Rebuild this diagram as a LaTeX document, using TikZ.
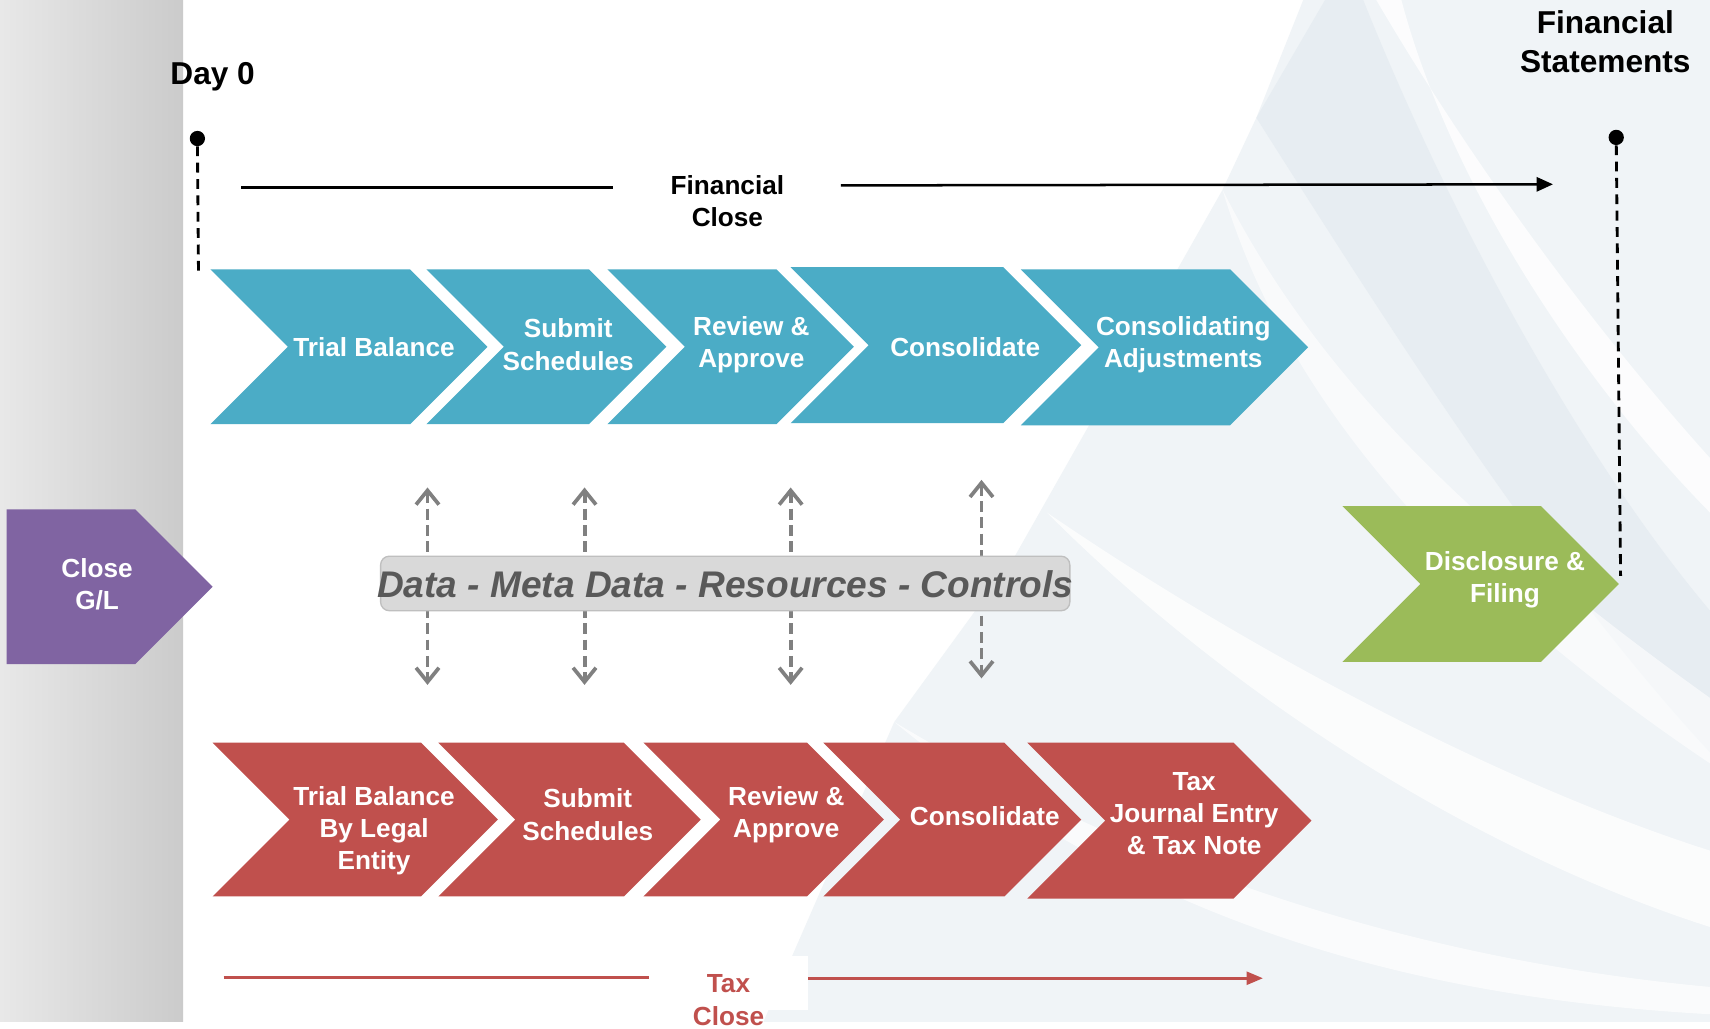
\documentclass[tikz,border=0pt]{standalone}
\usepackage{fontspec}
\setmainfont{Liberation Sans}
\usetikzlibrary{arrows.meta,calc}
\definecolor{cblue}{HTML}{4BACC6}
\definecolor{cred}{HTML}{C0504D}
\definecolor{cgreen}{HTML}{9BBB59}
\definecolor{cpurple}{HTML}{8064A2}
\definecolor{boxfill}{HTML}{D9D9D9}
\definecolor{boxline}{HTML}{BFBFBF}
\definecolor{datatext}{HTML}{595959}
\definecolor{arrowgrey}{HTML}{808080}
\definecolor{panelL}{HTML}{E8E8E8}
\definecolor{panelR}{HTML}{CBCBCB}
\definecolor{bgA}{HTML}{F0F4F7}
\definecolor{bgB}{HTML}{E7EDF2}
% colour, x left, x right, y top, y bottom, notch (1 or 0)
\newcommand\mychev[6]{%
  \pgfmathsetmacro\cd{(#5-#4)/2}%
  \pgfmathsetmacro\cm{(#5+#4)/2}%
  \fill[#1] (#2,#4) -- (#3,#4) -- (#3+\cd,\cm) -- (#3,#5) -- (#2,#5) -- (#2+#6*\cd,\cm) -- cycle;}
\begin{document}
\begin{tikzpicture}[x=1pt,y=-1pt,
  chevtext/.style={text=white, font=\bfseries\fontsize{24}{29.5}\selectfont, align=center, inner sep=0pt},
  toptext/.style={text=black, font=\bfseries\fontsize{24}{29}\selectfont, align=center, inner sep=0pt},
  bigtext/.style={text=black, font=\bfseries\fontsize{29}{36}\selectfont, align=center, inner sep=0pt},
  taxtext/.style={text=cred, font=\bfseries\fontsize{24}{30}\selectfont, align=center, inner sep=0pt},
  blackline/.style={draw=black, line width=2.3pt},
  redline/.style={draw=cred, line width=2.3pt},
  milestone/.style={circle, fill=black, inner sep=0pt, minimum size=14pt},
  msdash/.style={draw=black, line width=2.6pt, dash pattern=on 9pt off 6pt},
  dasharrow/.style={draw=arrowgrey, line width=3.6pt, dash pattern=on 10pt off 5pt,
     {Straight Barb[length=13pt,width=21pt,line width=3.4pt]}-{Straight Barb[length=13pt,width=21pt,line width=3.4pt]}},
  databox/.style={draw=boxline, fill=boxfill, line width=1.2pt, rounded corners=8pt, minimum width=632pt, minimum height=50pt, inner sep=0pt},
  datalabel/.style={text=datatext, font=\bfseries\itshape\fontsize{34}{40}\selectfont, inner sep=0pt}
]
\useasboundingbox (0,0) rectangle (1568,943);
\fill[white] (0,0) rectangle (1568,943);
% ---------- faint background ----------
\fill[bgA] (1195,0) -- (1568,0) -- (1568,937) -- (700,937) -- (820,662) -- (930,511) -- (1121,174) -- (1152,108) -- cycle;
\fill[bgB] (1152,108) -- (1215,0) -- (1250,0) .. controls (1330,200) and (1450,420) .. (1568,560) -- (1568,690) .. controls (1420,530) and (1280,310) .. (1152,108) -- cycle;
\fill[white,opacity=.8] (1262,0) .. controls (1350,150) and (1460,300) .. (1568,420) -- (1568,470) .. controls (1450,350) and (1330,170) .. (1285,0) -- cycle;
\fill[white,opacity=.75] (960,470) .. controls (1150,600) and (1380,720) .. (1568,780) -- (1568,850) .. controls (1380,790) and (1150,660) .. (960,470) -- cycle;
\fill[white,opacity=.7] (820,662) .. controls (1050,800) and (1300,880) .. (1568,905) -- (1568,930) .. controls (1300,915) and (1050,850) .. (820,662) -- cycle;
\fill[white,opacity=.6] (1121,174) .. controls (1200,330) and (1330,470) .. (1568,640) -- (1568,700) .. controls (1300,520) and (1170,340) .. (1121,174) -- cycle;
% ---------- grey side panel ----------
\shade[left color=panelL, right color=panelR] (0,0) rectangle (168,937);
% ---------- milestones ----------
\node[bigtext] (day0) at (195,70) {Day 0};
\node[bigtext] (fstat) at (1472,38) {Financial\\Statements};
\node[milestone] (dot0) at (181,127) {};
\node[milestone] (dotF) at (1482,126) {};
\coordinate (day0end) at (182,250);
\coordinate (fstatend) at (1486,528);
\draw[msdash] (dot0) -- (day0end);
\draw[msdash] (dotF) -- (fstatend);
% ---------- financial close line ----------
\node[toptext] (fclose) at (667,184.5) {Financial\\Close};
\coordinate (fcstart) at (221,172);
\coordinate (fcgapL) at (562,172);
\coordinate (fcgapR) at (771,170);
\coordinate (fcend) at (1424,169);
\draw[blackline] (fcstart) -- (fcgapL);
\draw[blackline, -{Triangle[length=15pt,width=13pt]}] (fcgapR) -- (fcend);
% ---------- top (blue) chevrons ----------
\mychev{cblue}{193}{376}{247}{389}{1}
\mychev{cblue}{391}{540}{247}{389}{1}
\mychev{cblue}{557}{712}{247}{389}{1}
\mychev{cblue}{725}{920}{245}{388}{1}
\mychev{cblue}{936}{1128}{247}{390}{1}
\node[chevtext] (tb) at (343,318) {Trial Balance};
\node[chevtext] (ss) at (521,316) {Submit\\Schedules};
\node[chevtext] (ra) at (689,316) {Review \&\\Approve};
\node[chevtext] (co) at (885,318) {Consolidate};
\node[chevtext] (ca) at (1085,316) {Consolidating\\Adjustments};
% ---------- middle ----------
\mychev{cpurple}{6}{124}{467}{609}{0}
\node[chevtext] (glclose) at (89,536) {Close\\G/L};
\mychev{cgreen}{1231}{1413}{464}{607}{1}
\node[chevtext] (disc) at (1380,532) {Disclosure \&\\Filing};
\coordinate (a1t) at (392,447); \coordinate (a1b) at (392,628);
\coordinate (a2t) at (536,447); \coordinate (a2b) at (536,628);
\coordinate (a3t) at (725,447); \coordinate (a3b) at (725,628);
\coordinate (a4t) at (900,440); \coordinate (a4b) at (900,622);
\draw[dasharrow] (a1t) -- (a1b);
\draw[dasharrow] (a2t) -- (a2b);
\draw[dasharrow] (a3t) -- (a3b);
\draw[dasharrow] (a4t) -- (a4b);
\node[databox] (dbox) at (665,535) {};
\node[datalabel] (dlabel) at (665,536) {Data - Meta Data - Resources - Controls};
% ---------- bottom (red) chevrons ----------
\mychev{cred}{195}{386}{681}{822}{1}
\mychev{cred}{402}{572}{681}{822}{1}
\mychev{cred}{590}{740}{681}{822}{1}
\mychev{cred}{755}{921}{681}{822}{1}
\mychev{cred}{942}{1131}{681}{824}{1}
\node[chevtext] (tbl) at (343,762) {Trial Balance\\By Legal\\Entity};
\node[chevtext] (ss2) at (539,747) {Submit\\Schedules};
\node[chevtext] (ra2) at (721,747) {Review \&\\Approve};
\node[chevtext] (co2) at (903,748) {Consolidate};
\node[chevtext] (tj) at (1095,746) {Tax\\Journal Entry\\\& Tax Note};
% ---------- tax close line ----------
\node[fill=white, minimum width=146pt, minimum height=49pt, inner sep=0pt] (taxbox) at (668,901.5) {};
\node[taxtext] (taxlbl) at (668,917) {Tax\\Close};
\coordinate (tcstart) at (205,896.5);
\coordinate (tcend) at (1158,897);
\draw[redline] (tcstart) -- (tcstart -| taxbox.west);
\draw[redline, -{Triangle[length=15pt,width=12pt]}] (tcend -| taxbox.east) -- (tcend);
\end{tikzpicture}
\end{document}
